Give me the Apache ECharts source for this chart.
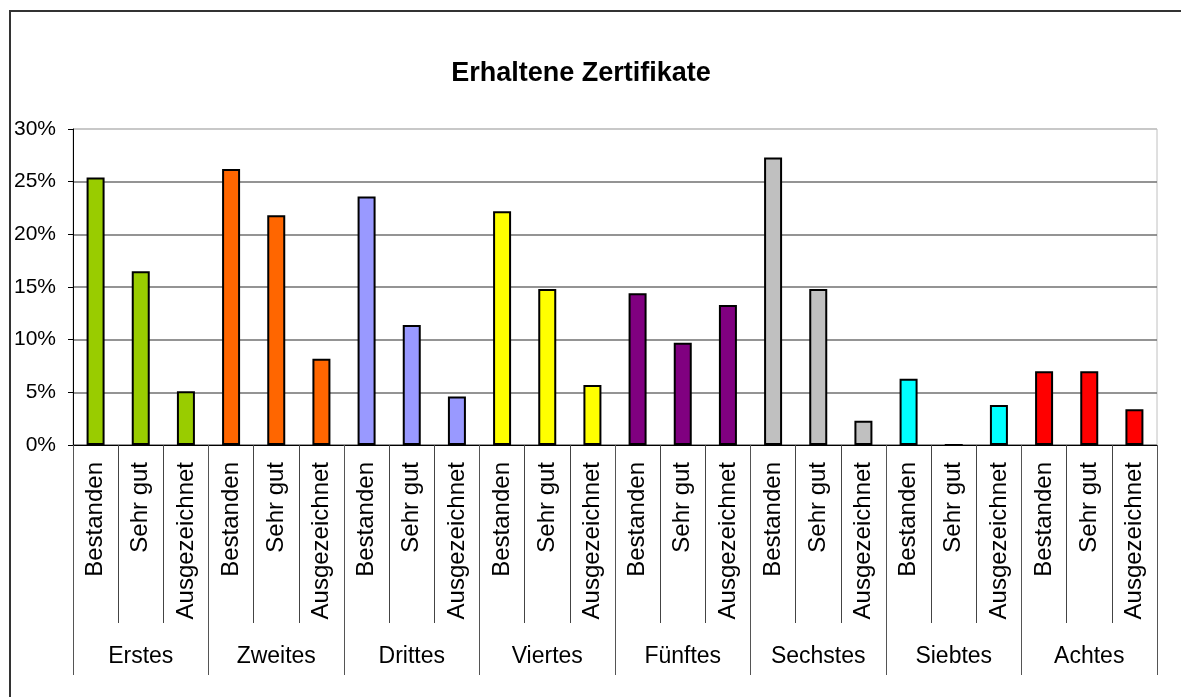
<!DOCTYPE html>
<html>
<head>
<meta charset="utf-8">
<script src="https://cdn.jsdelivr.net/npm/echarts@6/dist/echarts.min.js"></script>
<style>
  html, body { margin: 0; padding: 0; background: #fff; }
  #chart { width: 1181px; height: 697px; }
</style>
</head>
<body>
<div id="chart"></div>
<script>
// ---- data ----
const titleText = 'Erhaltene Zertifikate';
const groups = ['Erstes', 'Zweites', 'Drittes', 'Viertes', 'Fünftes', 'Sechstes', 'Siebtes', 'Achtes'];
const levels = ['Bestanden', 'Sehr gut', 'Ausgezeichnet'];
const bestanden     = [25.4, 26.2, 23.6, 22.2, 14.4, 27.3, 6.3, 7.0];
const sehrGut       = [16.5, 21.8, 11.4, 14.8,  9.7, 14.8, 0.0, 7.0];
const ausgezeichnet = [ 5.1,  8.2,  4.6,  5.7, 13.3,  2.3, 3.8, 3.4];
const yTicks = [0, 5, 10, 15, 20, 25, 30];

// ---- styles ----
const groupColors = ['#99CC00', '#FF6600', '#9999FF', '#FFFF00', '#800080', '#C0C0C0', '#00FFFF', '#FF0000'];
const FONT = "'Liberation Sans', Arial, sans-serif";

// ---- build ----
const categories = [];
const barData = [];
groups.forEach((g, i) => {
  const vals = [bestanden[i], sehrGut[i], ausgezeichnet[i]];
  levels.forEach((lv, j) => {
    categories.push(lv);
    barData.push({ value: vals[j] / 100, itemStyle: { color: groupColors[i] } });
  });
});

const chart = echarts.init(document.getElementById('chart'), null, { renderer: 'canvas' });
chart.setOption({
  animation: false,
  backgroundColor: '#fff',
  title: {
    text: titleText,
    left: 576,
    top: 55,
    textAlign: 'center',
    textStyle: { fontFamily: FONT, fontWeight: 'bold', fontSize: 27, color: '#000' }
  },
  graphic: [{
    type: 'rect',
    shape: { x: 10, y: 11, width: 1300, height: 800 },
    style: { fill: 'none', stroke: '#333', lineWidth: 2 },
    silent: true,
    z: 100
  }],
  grid: {
    left: 73, right: 24, top: 129, bottom: 252,
    show: true, borderColor: '#c0c0c0', borderWidth: 1, backgroundColor: 'transparent',
    containLabel: false
  },
  xAxis: [{
    type: 'category',
    data: categories,
    position: 'bottom',
    axisLine: { show: true, lineStyle: { color: '#000', width: 1 } },
    axisTick: { show: true, interval: 0, length: 178, lineStyle: { color: '#444', width: 1 } },
    axisLabel: { interval: 0, rotate: 90, margin: 17, fontFamily: FONT, fontSize: 24, color: '#000' },
    splitLine: { show: false }
  }, {
    type: 'category',
    data: groups,
    position: 'bottom',
    offset: 0,
    axisLine: { show: false },
    axisTick: { show: true, interval: 0, length: 230, lineStyle: { color: '#555', width: 1 } },
    axisLabel: { interval: 0, margin: 200, fontFamily: FONT, fontSize: 23, color: '#000' },
    splitLine: { show: false }
  }],
  yAxis: {
    type: 'value',
    min: yTicks[0] / 100,
    max: yTicks[yTicks.length - 1] / 100,
    interval: 0.05,
    axisLine: { show: true, lineStyle: { color: '#000', width: 1 } },
    axisTick: { show: true, length: 5, lineStyle: { color: '#000' } },
    axisLabel: {
      margin: 17, fontFamily: FONT, fontSize: 21, color: '#000',
      formatter: v => Math.round(v * 100) + '%'
    },
    splitLine: { show: true, lineStyle: { color: ['#808080', '#707070', '#707070', '#707070', '#707070', '#707070', '#c0c0c0'], width: 1.5 } }
  },
  series: [{
    type: 'bar',
    xAxisIndex: 0,
    data: barData,
    barWidth: 18,
    itemStyle: { borderColor: '#000', borderWidth: 2 }
  }]
});
</script>
</body>
</html>
